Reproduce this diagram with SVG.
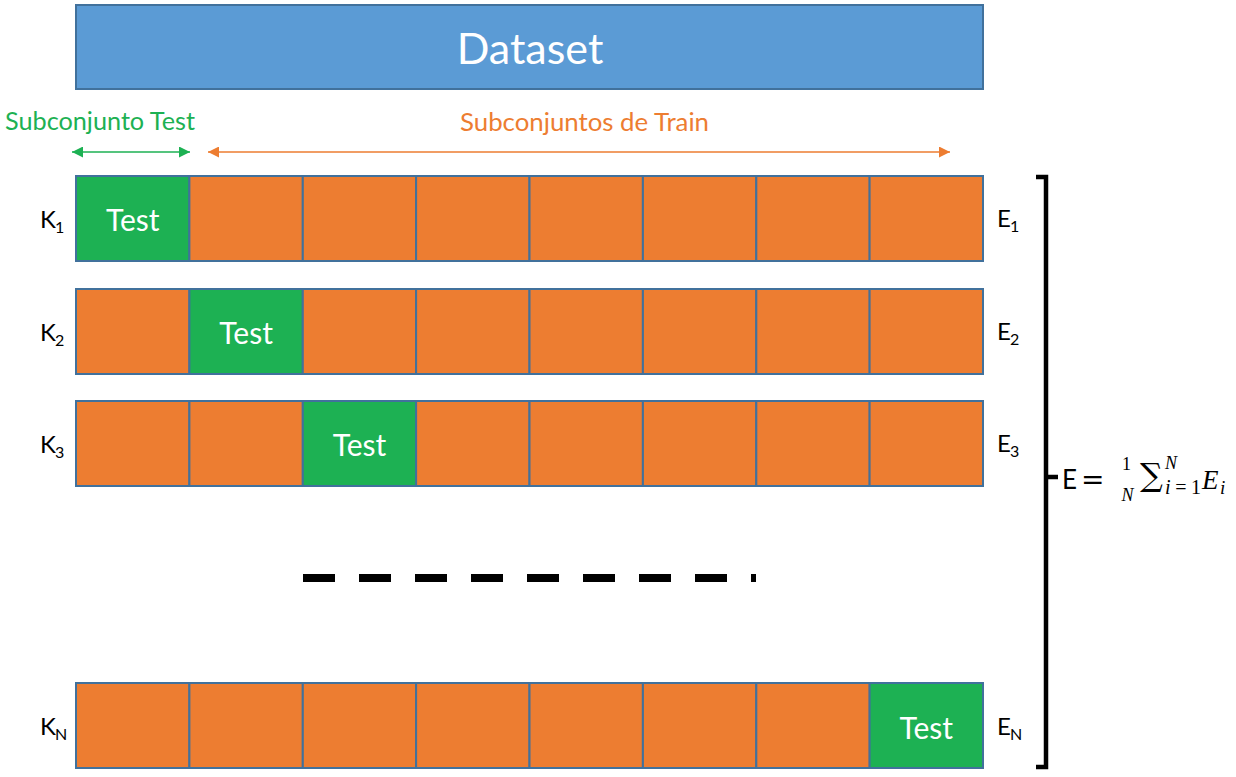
<svg xmlns="http://www.w3.org/2000/svg" width="1236" height="777" viewBox="0 0 1236 777">
<defs>
<style>
.tr{fill:#ED7D31;stroke:#41719C;stroke-width:2}
.te{fill:#1DB153;stroke:#41719C;stroke-width:2}
.tt{font-family:Lato,"Liberation Sans",sans-serif;font-size:30px;fill:#FFFFFF;text-anchor:middle}
.lb{font-family:Lato,"Liberation Sans",sans-serif;font-size:24px;fill:#000000}
.sb{font-family:Lato,"Liberation Sans",sans-serif;font-size:16px;fill:#000000}
</style>
<marker id="ag" viewBox="0 0 10 10" refX="10" refY="5" markerUnits="userSpaceOnUse" markerWidth="12" markerHeight="11" orient="auto-start-reverse"><path d="M0,0 L10,5 L0,10 z" fill="#1DB153"/></marker>
<marker id="ao" viewBox="0 0 10 10" refX="10" refY="5" markerUnits="userSpaceOnUse" markerWidth="12" markerHeight="11" orient="auto-start-reverse"><path d="M0,0 L10,5 L0,10 z" fill="#ED7D31"/></marker>
</defs>
<rect width="1236" height="777" fill="#FFFFFF"/>

<g id="dataset">
<rect x="76" y="5" width="907" height="84" fill="#5B9BD5" stroke="#41719C" stroke-width="2"/>
<text x="530" y="64" font-family="Lato,'Liberation Sans',sans-serif" font-size="43" fill="#FFFFFF" text-anchor="middle">Dataset</text>
</g>

<g id="label-test">
<text x="5" y="130" font-family="Lato,'Liberation Sans',sans-serif" font-size="25" fill="#1DB153" textLength="190" lengthAdjust="spacingAndGlyphs">Subconjunto Test</text>
</g>
<g id="label-train">
<text x="460" y="131" font-family="Lato,'Liberation Sans',sans-serif" font-size="25" fill="#ED7D31" textLength="249" lengthAdjust="spacingAndGlyphs">Subconjuntos de Train</text>
</g>

<g id="connectors">
<line x1="72" y1="152" x2="190" y2="152" stroke="#1DB153" stroke-width="1.5" marker-start="url(#ag)" marker-end="url(#ag)"/>
<line x1="208" y1="152" x2="950" y2="152" stroke="#ED7D31" stroke-width="1.5" marker-start="url(#ao)" marker-end="url(#ao)"/>
<line x1="303" y1="578" x2="756" y2="578" stroke="#000000" stroke-width="8" stroke-dasharray="32 24"/>
<path d="M1036,177 H1046 V767 H1036 M1046,477 H1058" fill="none" stroke="#000000" stroke-width="4.5"/>
</g>

<g id="row1">
<rect class="te" x="76" y="176" width="113.4" height="85"/>
<rect class="tr" x="189.4" y="176" width="113.4" height="85"/>
<rect class="tr" x="302.8" y="176" width="113.4" height="85"/>
<rect class="tr" x="416.1" y="176" width="113.4" height="85"/>
<rect class="tr" x="529.5" y="176" width="113.4" height="85"/>
<rect class="tr" x="642.9" y="176" width="113.4" height="85"/>
<rect class="tr" x="756.3" y="176" width="113.4" height="85"/>
<rect class="tr" x="869.6" y="176" width="113.4" height="85"/>
<text class="tt" x="132.7" y="231">Test</text>
<text class="lb" x="40" y="228">K</text><text class="sb" x="55" y="233">1</text>
<text class="lb" x="997" y="227">E</text><text class="sb" x="1010" y="232">1</text>
</g>

<g id="row2">
<rect class="tr" x="76" y="289" width="113.4" height="85"/>
<rect class="te" x="189.4" y="289" width="113.4" height="85"/>
<rect class="tr" x="302.8" y="289" width="113.4" height="85"/>
<rect class="tr" x="416.1" y="289" width="113.4" height="85"/>
<rect class="tr" x="529.5" y="289" width="113.4" height="85"/>
<rect class="tr" x="642.9" y="289" width="113.4" height="85"/>
<rect class="tr" x="756.3" y="289" width="113.4" height="85"/>
<rect class="tr" x="869.6" y="289" width="113.4" height="85"/>
<text class="tt" x="246.1" y="344">Test</text>
<text class="lb" x="40" y="341">K</text><text class="sb" x="55" y="346">2</text>
<text class="lb" x="997" y="340">E</text><text class="sb" x="1010" y="345">2</text>
</g>

<g id="row3">
<rect class="tr" x="76" y="401" width="113.4" height="85"/>
<rect class="tr" x="189.4" y="401" width="113.4" height="85"/>
<rect class="te" x="302.8" y="401" width="113.4" height="85"/>
<rect class="tr" x="416.1" y="401" width="113.4" height="85"/>
<rect class="tr" x="529.5" y="401" width="113.4" height="85"/>
<rect class="tr" x="642.9" y="401" width="113.4" height="85"/>
<rect class="tr" x="756.3" y="401" width="113.4" height="85"/>
<rect class="tr" x="869.6" y="401" width="113.4" height="85"/>
<text class="tt" x="359.5" y="456">Test</text>
<text class="lb" x="40" y="453">K</text><text class="sb" x="55" y="458">3</text>
<text class="lb" x="997" y="452">E</text><text class="sb" x="1010" y="457">3</text>
</g>

<g id="rowN">
<rect class="tr" x="76" y="683" width="113.4" height="85"/>
<rect class="tr" x="189.4" y="683" width="113.4" height="85"/>
<rect class="tr" x="302.8" y="683" width="113.4" height="85"/>
<rect class="tr" x="416.1" y="683" width="113.4" height="85"/>
<rect class="tr" x="529.5" y="683" width="113.4" height="85"/>
<rect class="tr" x="642.9" y="683" width="113.4" height="85"/>
<rect class="tr" x="756.3" y="683" width="113.4" height="85"/>
<rect class="te" x="869.6" y="683" width="113.4" height="85"/>
<text class="tt" x="926.3" y="739">Test</text>
<text class="lb" x="40" y="735">K</text><text class="sb" x="55" y="740">N</text>
<text class="lb" x="997" y="735">E</text><text class="sb" x="1010" y="740">N</text>
</g>

<g id="formula">
<text x="1062" y="489" font-family="Lato,'Liberation Sans',sans-serif" font-size="26" fill="#000000">E</text>
<text x="1081" y="489" font-family="'DejaVu Sans',sans-serif" font-size="28" fill="#000000">=</text>
<text x="1126.5" y="470" font-family="'Liberation Serif',serif" font-size="18" fill="#000000" text-anchor="middle">1</text>
<text x="1127.5" y="501" font-family="'Liberation Serif',serif" font-style="italic" font-size="18" fill="#000000" text-anchor="middle">N</text>
<text x="1140" y="486" font-family="'DejaVu Serif',serif" font-size="32" fill="#000000">∑</text>
<text x="1165" y="469" font-family="'Liberation Serif',serif" font-style="italic" font-size="18" fill="#000000">N</text>
<text x="1165" y="494" font-family="'Liberation Serif',serif" font-size="20" fill="#000000" textLength="36" lengthAdjust="spacing"><tspan font-style="italic">i</tspan>=1</text>
<text x="1202" y="489" font-family="'Liberation Serif',serif" font-style="italic" font-size="27" fill="#000000">E</text>
<text x="1220" y="494" font-family="'Liberation Serif',serif" font-style="italic" font-size="19" fill="#000000">i</text>
</g>
</svg>
